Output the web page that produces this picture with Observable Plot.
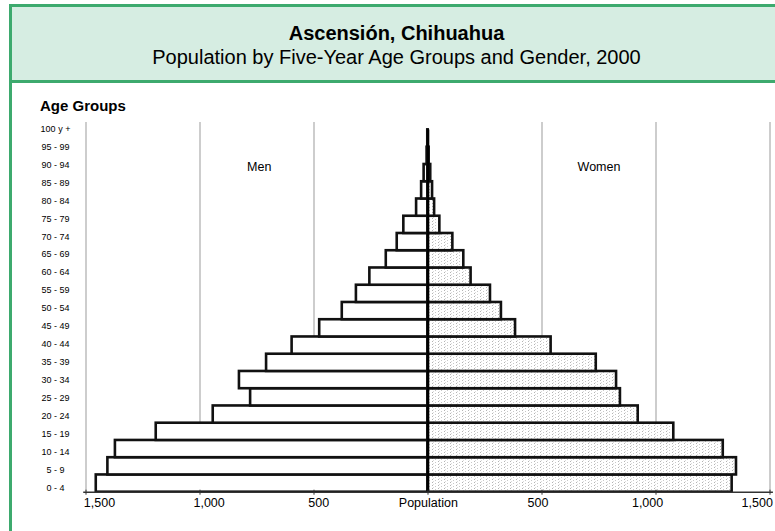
<!DOCTYPE html>
<html>
<head>
<meta charset="utf-8">
<script src="https://cdn.jsdelivr.net/npm/d3@7"></script>
<script src="https://cdn.jsdelivr.net/npm/@observablehq/plot@0.6"></script>
<style>
  body { margin: 0; background: #fff; font-family: "Liberation Sans", Arial, sans-serif; }
  #wrap { position: relative; width: 775px; height: 531px; overflow: hidden; background: #fff; }
  #header { position: absolute; left: 9px; top: 4px; width: 772px; height: 79px; box-sizing: border-box;
            background: #d6ede2; border-top: 3px solid #3daa6e; border-bottom: 3px solid #3daa6e; border-left: 3px solid #3daa6e; }
  #title { position: absolute; left: 0; right: 0; top: 15.6px; text-align: center; font-weight: bold; font-size: 20px; line-height: 20px; color: #000; }
  #subtitle { position: absolute; left: 0; right: 0; top: 39.7px; text-align: center; font-size: 20px; line-height: 20px; color: #000; }
  #leftline { position: absolute; left: 9px; top: 82px; width: 3px; height: 449px; background: #3daa6e; }
  #chart { position: absolute; left: 0; top: 83px; width: 775px; height: 448px; }
  #chart svg { position: absolute; left: 0; top: 0; }
  #agegroups { position: absolute; left: 40px; top: 97px; font-weight: bold; font-size: 15px; line-height: 17px; color: #000; }
</style>
</head>
<body>
<div id="wrap">
  <div id="header">
    <div id="title">Ascensión, Chihuahua</div>
    <div id="subtitle">Population by Five-Year Age Groups and Gender, 2000</div>
  </div>
  <div id="leftline"></div>
  <div id="chart"></div>
  <div id="agegroups">Age Groups</div>
</div>
<script>
// ---- data ----
const ageGroups = ["0 - 4","5 - 9","10 - 14","15 - 19","20 - 24","25 - 29","30 - 34","35 - 39","40 - 44","45 - 49",
  "50 - 54","55 - 59","60 - 64","65 - 69","70 - 74","75 - 79","80 - 84","85 - 89","90 - 94","95 - 99","100 y +"];
const menPop   = [1455,1404,1371,1192,942,778,827,708,596,475,376,314,255,183,135,106,50,28,17,4,1];
const womenPop = [1334,1353,1295,1078,922,844,827,738,540,384,322,274,189,157,109,52,29,20,12,5,1];
const xTicks = [-1500,-1000,-500,0,500,1000,1500];
const gridValues = [-1500,-1000,-500,500,1000,1500];
const sexLabels = ["Men","Women"];
const sexLabelX = [-740, 750];

const rows = ageGroups.map((age, i) => ({age, men: menPop[i], women: womenPop[i]}));
const topDown = ageGroups.slice().reverse();
const fmt = d => d === 0 ? "Population" : d3.format(",")(Math.abs(d));

const W = 775, H = 448;
const bandTop = 46.5, bandBottom = 408.7;
const bw = (bandBottom - bandTop) / ageGroups.length;
const font = "'Liberation Sans', Arial, sans-serif";

const main = Plot.plot({
  width: W, height: H,
  marginLeft: 85.5, marginRight: 5.5, marginTop: bandTop, marginBottom: H - bandBottom,
  style: {background: "transparent", fontFamily: font, overflow: "visible"},
  x: {domain: [-1500, 1500], axis: null, label: null},
  y: {type: "band", domain: topDown, padding: 0, round: false, axis: null, label: null},
  marks: [
    Plot.ruleX(gridValues, {stroke: "#9b9b9b", strokeWidth: 1, insetTop: -7.5}),
    Plot.barX(rows, {y: "age", x1: 0, x2: d => -d.men, fill: "#fff", stroke: "#111", strokeWidth: 2.6}),
    Plot.barX(rows, {y: "age", x1: 0, x2: "women", fill: "url(#stipple)", stroke: "#111", strokeWidth: 2.6}),
    Plot.ruleX([0], {stroke: "#000", strokeWidth: 2.6}),
    Plot.ruleY([ageGroups[0]], {y: d => d, x1: -1510, x2: 1515, dy: bw / 2, stroke: "#333", strokeWidth: 1.5}),
    Plot.axisX({ticks: xTicks, tickSize: 5, dy: -2, tickFormat: () => "", label: null, stroke: "#333"}),
    Plot.text(sexLabels, {x: (d, i) => sexLabelX[i], text: d => d, frameAnchor: "top", dy: 32, fontSize: 12.5, fill: "#000"})
  ]
});

const defs = d3.select(main).insert("defs", ":first-child");
const pat = defs.append("pattern").attr("id", "stipple").attr("width", 6).attr("height", 3).attr("patternUnits", "userSpaceOnUse");
pat.append("rect").attr("width", 6).attr("height", 3).attr("fill", "#fff");
pat.append("rect").attr("x", 0).attr("y", 0).attr("width", 1).attr("height", 1).attr("fill", "#b4b4b4");
pat.append("rect").attr("x", 3).attr("y", 1).attr("width", 1).attr("height", 1).attr("fill", "#c8c8c8");
pat.append("rect").attr("x", 1).attr("y", 2).attr("width", 1).attr("height", 1).attr("fill", "#dcdcdc");

const labelTop = 128.3 - 83, labelBottom = 487.7 - 83;
const step = (labelBottom - labelTop) / (ageGroups.length - 1);
const overlay = Plot.plot({
  width: W, height: H,
  marginLeft: 99, marginRight: W - 756.7, marginTop: labelTop - step / 2, marginBottom: H - labelBottom - step / 2,
  style: {background: "transparent", fontFamily: font, overflow: "visible"},
  x: {domain: [-1500, 1500], axis: null, label: null},
  y: {type: "band", domain: topDown, padding: 0, round: false, axis: null, label: null},
  marks: [
    Plot.text(ageGroups, {y: d => d, text: d => d, frameAnchor: "left", dx: 55 - 99, textAnchor: "middle", fontSize: 9, fill: "#000"}),
    Plot.text(xTicks, {x: d => d, text: fmt, frameAnchor: "bottom", dy: 18.3 - step / 2, fontSize: 12.5, fill: "#000"})
  ]
});

const chart = document.getElementById("chart");
chart.appendChild(main);
chart.appendChild(overlay);
</script>
</body>
</html>
